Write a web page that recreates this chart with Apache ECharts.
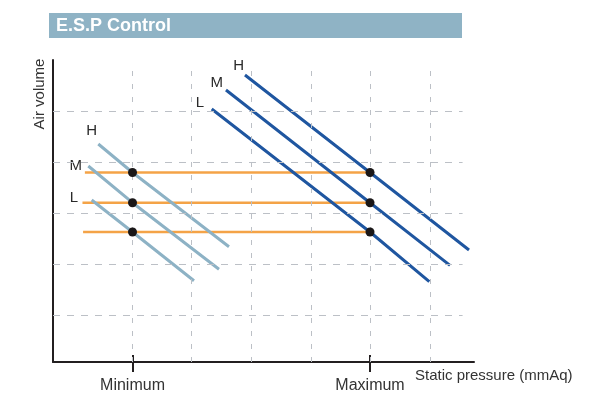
<!DOCTYPE html>
<html>
<head>
<meta charset="utf-8">
<script src="https://cdn.jsdelivr.net/npm/echarts@6/dist/echarts.min.js"></script>
<style>
    html, body { margin: 0; padding: 0; background: #fff; }
    #chart { width: 610px; height: 394px; }
</style>
</head>
<body>
<div id="chart"></div>
<script>
// values (x: static pressure, y: air volume, arbitrary units)
const speeds = ['H', 'M', 'L'];
const tickValues = [1.322, 5.271];
const tickLabels = ['Minimum', 'Maximum'];
const gridX = [1.322, 2.295, 3.304, 4.29, 5.271, 6.268];
const gridY = [0.928, 1.941, 2.954, 3.967, 4.987];

// operating points (air volume kept constant between min and max pressure)
const levels = [3.765, 3.165, 2.583];
const levelStart = [0.53, 0.49, 0.5];

// fan curves at minimum setting (light) and at maximum setting (dark)
const lowStart = [[0.753, 4.331], [0.587, 3.894], [0.643, 3.219]];
const lowEnd = [[2.926, 2.291], [2.76, 1.842], [2.344, 1.615]];
const highStart = [[3.192, 5.702], [2.876, 5.404], [2.639, 5.027]];
const highEnd = [[6.917, 2.225], [6.601, 1.921], [6.257, 1.595]];

// speed letters next to each curve
const lowLabelPos = [[0.643, 4.589], [0.377, 3.894], [0.349, 3.252]];
const highLabelPos = [[3.088, 5.881], [2.722, 5.537], [2.444, 5.14]];

const FONT = '"Liberation Sans", Arial, sans-serif';
const chart = echarts.init(document.getElementById('chart'));

const gridLines = [];
gridX.forEach(x => {
    gridLines.push([{coord: [x, 0], lineStyle: {type: [5, 8]}}, {coord: [x, 5.94]}]);
});
gridY.forEach(y => {
    gridLines.push([{coord: [0, y], lineStyle: {type: [7, 7]}}, {coord: [6.81, y]}]);
});

const series = [
    {
        name: 'grid',
        type: 'line',
        data: [],
        silent: true,
        markLine: {
            silent: true,
            symbol: 'none',
            animation: false,
            label: {show: false},
            lineStyle: {color: '#bcc0c6', width: 1},
            data: gridLines
        }
    }
];

speeds.forEach((s, i) => {
    series.push({
        name: 'level ' + s,
        type: 'line',
        showSymbol: false,
        symbol: 'none',
        z: 3,
        lineStyle: {color: '#f4a347', width: 2.5},
        data: [[levelStart[i], levels[i]], [tickValues[1], levels[i]]]
    });
});

speeds.forEach((s, i) => {
    series.push({
        name: 'min ' + s,
        type: 'line',
        showSymbol: false,
        symbol: 'none',
        z: 4,
        lineStyle: {color: '#8db2c5', width: 3},
        data: [lowStart[i], [tickValues[0], levels[i]], lowEnd[i]]
    });
    series.push({
        name: 'max ' + s,
        type: 'line',
        showSymbol: false,
        symbol: 'none',
        z: 4,
        lineStyle: {color: '#1f56a0', width: 3},
        data: [highStart[i], [tickValues[1], levels[i]], highEnd[i]]
    });
});

const dots = [];
levels.forEach(v => {
    dots.push([tickValues[0], v]);
    dots.push([tickValues[1], v]);
});
series.push({
    name: 'points',
    type: 'scatter',
    z: 6,
    symbolSize: 9,
    itemStyle: {color: '#1a1718', opacity: 1},
    data: dots
});

const letters = [];
speeds.forEach((s, i) => {
    letters.push({name: s, value: lowLabelPos[i]});
    letters.push({name: s, value: highLabelPos[i]});
});
series.push({
    name: 'letters',
    type: 'scatter',
    symbolSize: 0,
    silent: true,
    itemStyle: {opacity: 1},
    label: {
        show: true,
        position: 'inside',
        formatter: '{b}',
        color: '#2a2a2a',
        fontFamily: FONT,
        fontSize: 15
    },
    data: letters
});

chart.setOption({
    animation: false,
    title: {
        text: 'E.S.P Control',
        left: 56,
        top: 17,
        z: 10,
        padding: 0,
        textStyle: {color: '#fff', fontFamily: FONT, fontWeight: 'bold', fontSize: 18}
    },
    graphic: [
        {
            type: 'rect',
            z: 0,
            shape: {x: 49, y: 13, width: 413, height: 25},
            style: {fill: '#8fb3c5'}
        },
        {
            type: 'text',
            left: 415,
            top: 368,
            style: {text: 'Static pressure (mmAq)', fill: '#333', font: '15px ' + FONT}
        },
        {
            type: 'text',
            x: 40,
            y: 94,
            rotation: Math.PI / 2,
            style: {
                text: 'Air volume',
                fill: '#333',
                font: '15px ' + FONT,
                align: 'center',
                verticalAlign: 'middle'
            }
        }
    ],
    grid: {left: 53, right: 136, top: 60, bottom: 32},
    xAxis: [
        {
            type: 'value',
            min: 0,
            max: 7,
            splitLine: {show: false},
            axisLine: {show: true, lineStyle: {color: '#231f20', width: 2}},
            axisTick: {show: true, customValues: tickValues, length: 10, lineStyle: {color: '#231f20', width: 2}},
            axisLabel: {
                show: true,
                customValues: tickValues,
                margin: 16,
                color: '#333',
                fontFamily: FONT,
                fontSize: 16,
                formatter: v => {
                    let best = 0;
                    tickValues.forEach((t, i) => {
                        if (Math.abs(t - v) < Math.abs(tickValues[best] - v)) best = i;
                    });
                    return tickLabels[best];
                }
            }
        },
        {
            type: 'value',
            position: 'bottom',
            min: 0,
            max: 7,
            splitLine: {show: false},
            axisLine: {show: false},
            axisLabel: {show: false},
            axisTick: {show: true, inside: true, customValues: tickValues, length: 7, lineStyle: {color: '#231f20', width: 2}}
        }
    ],
    yAxis: {
        type: 'value',
        min: 0,
        max: 6,
        splitLine: {show: false},
        axisLine: {show: true, lineStyle: {color: '#231f20', width: 2}},
        axisTick: {show: false},
        axisLabel: {show: false}
    },
    series: series
});
</script>
</body>
</html>
